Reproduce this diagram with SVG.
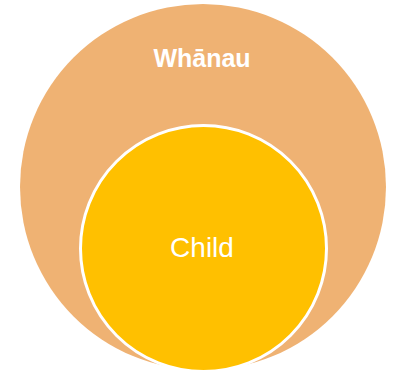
<svg xmlns="http://www.w3.org/2000/svg" width="395" height="375" viewBox="0 0 395 375">
  <style>
    .label { fill: #ffffff; font-family: "Liberation Sans", Arial, sans-serif; text-anchor: middle; }
  </style>
  <rect width="395" height="375" fill="#ffffff"/>
  <!-- outer ring: the family -->
  <g id="whanau">
    <circle cx="203" cy="187" r="183" fill="#EFB273"/>
    <text class="label" x="202" y="67" font-size="25" font-weight="bold">Whānau</text>
  </g>
  <!-- inner circle: the child, sitting at the bottom of the ring -->
  <g id="child">
    <circle cx="203.5" cy="248.5" r="123" fill="#FFC000" stroke="#ffffff" stroke-width="3"/>
    <text class="label" x="202" y="257" font-size="28">Child</text>
  </g>
  <g id="connectors"/>
</svg>
